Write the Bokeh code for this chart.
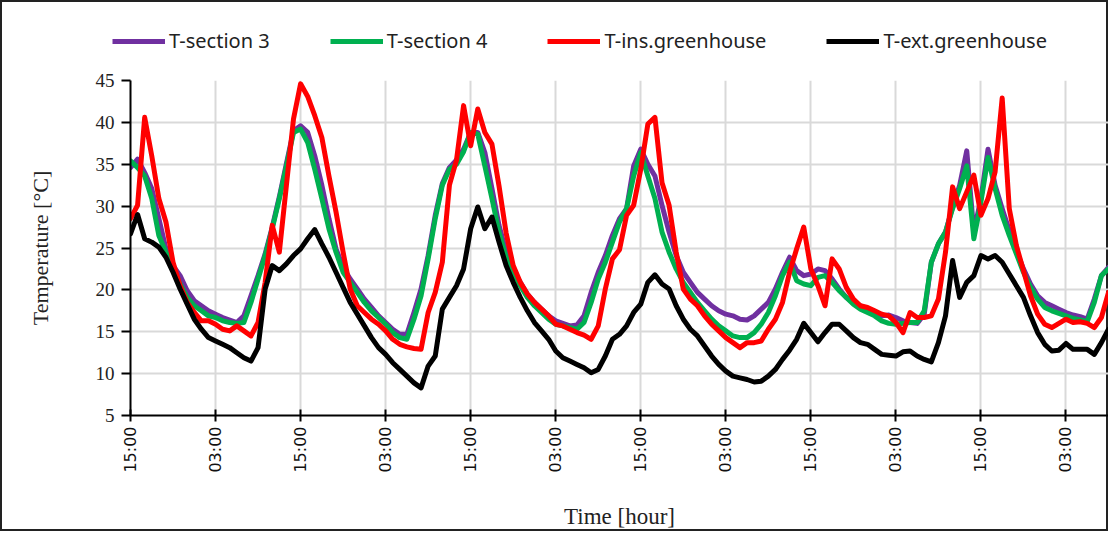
import numpy as np
from bokeh.plotting import figure
from bokeh.layouts import column
from bokeh.models import Legend, LegendItem, FixedTicker, Range1d
from bokeh.embed import file_html
from bokeh.resources import INLINE

# hourly samples, hour 0 = 15:00 of the first day
hours = list(range(139))

t_section3 = [
    34.6, 35.6, 34.0, 32.1, 28.5, 24.9, 22.9, 21.7, 19.9, 18.7, 18.1, 17.5, 17.1, 16.7, 16.4, 16.1,
    16.9, 19.3, 21.7, 24.3, 27.5, 31.1, 35.1, 39.0, 39.6, 38.8, 36.0, 32.5, 28.5, 24.9, 22.7, 21.3,
    20.1, 18.9, 17.9, 16.9, 16.1, 15.3, 14.7, 14.7, 17.3, 20.1, 24.1, 28.9, 32.7, 34.6, 35.5, 36.8,
    38.8, 38.8, 36.4, 32.1, 27.7, 24.5, 22.3, 20.9, 19.5, 18.5, 17.7, 16.9, 16.3, 16.0, 15.7, 15.8,
    16.9, 19.7, 22.1, 24.1, 26.5, 28.5, 29.7, 34.8, 36.8, 35.0, 33.6, 30.1, 26.9, 24.1, 22.1, 20.9,
    19.7, 18.9, 18.1, 17.5, 17.1, 16.9, 16.5, 16.4, 16.9, 17.7, 18.5, 20.1, 22.1, 23.9, 22.3, 21.7,
    21.9, 22.5, 22.3, 21.3, 20.1, 19.1, 18.5, 18.1, 17.7, 17.3, 16.9, 17.0, 16.7, 16.3, 16.1, 16.0,
    17.1, 23.3, 25.5, 26.9, 29.9, 32.5, 36.6, 26.9, 30.9, 36.8, 32.5, 29.7, 27.1, 24.7, 22.5, 20.7,
    19.3, 18.5, 18.1, 17.7, 17.3, 17.0, 16.8, 16.5, 18.9, 21.7, 22.7,
]

t_section4 = [
    35.4, 34.6, 33.6, 30.9, 26.5, 24.5, 22.5, 20.7, 19.1, 18.1, 17.5, 16.9, 16.7, 16.3, 16.1, 16.0,
    16.1, 18.5, 21.3, 24.1, 27.3, 30.9, 34.8, 38.8, 39.2, 37.6, 34.4, 30.9, 27.3, 24.5, 22.1, 20.9,
    19.7, 18.5, 17.5, 16.7, 15.9, 14.9, 14.3, 14.1, 16.5, 19.3, 23.7, 28.5, 32.5, 34.4, 35.0, 36.5,
    38.8, 38.6, 34.8, 30.9, 26.9, 23.9, 21.7, 20.5, 19.1, 18.1, 17.3, 16.5, 15.9, 15.7, 15.5, 15.3,
    16.1, 18.5, 21.3, 23.3, 25.7, 28.1, 29.7, 33.6, 36.4, 33.6, 30.9, 26.9, 24.5, 22.5, 20.9, 19.7,
    18.5, 17.5, 16.5, 15.7, 15.1, 14.5, 14.3, 14.3, 14.9, 15.9, 17.3, 19.3, 21.7, 23.3, 21.1, 20.7,
    20.5, 21.5, 21.7, 20.9, 19.9, 19.1, 18.3, 17.7, 17.3, 16.9, 16.3, 16.0, 15.9, 16.0, 16.1, 16.1,
    17.5, 23.3, 25.5, 26.9, 29.7, 32.1, 34.8, 26.1, 30.5, 35.8, 32.1, 28.9, 26.5, 24.3, 22.1, 20.3,
    18.9, 17.9, 17.5, 17.2, 16.9, 16.6, 16.4, 16.2, 18.5, 21.7, 22.5,
]

t_ins_greenhouse = [
    28.5, 30.1, 40.6, 36.0, 30.9, 28.1, 23.3, 20.5, 18.5, 17.3, 16.3, 16.3, 15.9, 15.3, 15.1, 15.7,
    15.1, 14.5, 16.1, 20.9, 27.7, 24.5, 32.5, 40.4, 44.6, 43.1, 40.8, 38.2, 33.6, 29.3, 24.5, 20.1,
    18.1, 17.3, 16.5, 15.9, 15.1, 14.1, 13.5, 13.2, 13.0, 12.9, 17.3, 19.7, 23.3, 32.5, 35.5, 42.0,
    37.2, 41.6, 38.8, 37.4, 32.4, 26.8, 22.9, 20.9, 19.5, 18.5, 17.7, 16.9, 15.9, 15.7, 15.3, 14.9,
    14.6, 14.1, 15.7, 20.1, 23.7, 24.8, 28.9, 30.1, 34.4, 39.8, 40.6, 32.8, 30.1, 24.5, 20.1, 18.9,
    18.1, 16.9, 15.9, 15.1, 14.3, 13.7, 13.1, 13.7, 13.7, 13.9, 15.3, 16.5, 18.5, 22.1, 24.9, 27.5,
    22.5, 20.5, 18.1, 23.7, 22.5, 20.3, 18.9, 18.1, 17.9, 17.5, 17.1, 16.9, 16.1, 14.9, 17.3, 16.7,
    16.7, 16.9, 18.9, 24.5, 32.3, 29.7, 31.7, 33.7, 28.9, 30.9, 34.1, 42.9, 29.7, 25.3, 22.3, 19.3,
    17.1, 15.9, 15.5, 16.0, 16.5, 16.1, 16.2, 16.0, 15.5, 16.7, 19.7,
]

t_ext_greenhouse = [
    26.7, 29.0, 26.1, 25.7, 25.1, 23.9, 22.1, 20.1, 18.3, 16.5, 15.3, 14.3, 13.9, 13.5, 13.1, 12.5,
    11.9, 11.5, 13.1, 20.1, 22.9, 22.3, 23.1, 24.1, 24.9, 26.1, 27.2, 25.5, 23.9, 22.1, 20.3, 18.5,
    17.1, 15.7, 14.3, 13.1, 12.3, 11.3, 10.5, 9.7, 8.9, 8.3, 10.9, 12.1, 17.7, 19.1, 20.5, 22.5,
    27.3, 29.9, 27.3, 28.7, 25.7, 22.9, 20.9, 19.1, 17.5, 16.1, 15.1, 14.1, 12.7, 11.9, 11.5, 11.1,
    10.7, 10.1, 10.5, 12.1, 14.1, 14.7, 15.7, 17.3, 18.3, 20.9, 21.8, 20.7, 20.1, 18.1, 16.5, 15.3,
    14.5, 13.3, 12.1, 11.1, 10.3, 9.7, 9.5, 9.3, 9.0, 9.1, 9.7, 10.5, 11.7, 12.8, 14.1, 16.0,
    14.9, 13.8, 14.9, 15.9, 15.9, 15.1, 14.3, 13.7, 13.5, 12.9, 12.3, 12.2, 12.1, 12.6, 12.7, 12.1,
    11.7, 11.4, 13.7, 16.9, 23.5, 19.1, 20.9, 21.7, 24.1, 23.7, 24.1, 23.3, 21.9, 20.5, 19.1, 16.9,
    14.9, 13.5, 12.7, 12.8, 13.6, 12.9, 12.9, 12.9, 12.3, 13.7, 15.3,
]

series_names = ["T-section 3", "T-section 4", "T-ins.greenhouse", "T-ext.greenhouse"]
series_colors = ["#7030A0", "#00B050", "#FF0000", "#000000"]
series_values = [t_section3, t_section4, t_ins_greenhouse, t_ext_greenhouse]

x_tick_positions = [0, 12, 24, 36, 48, 60, 72, 84, 96, 108, 120, 132]
x_tick_labels = ["15:00", "03:00", "15:00", "03:00", "15:00", "03:00",
                 "15:00", "03:00", "15:00", "03:00", "15:00", "03:00"]
y_ticks = [5, 10, 15, 20, 25, 30, 35, 40, 45]

LINE_W = 5
nan = float("nan")

# ---------- legend strip (top) ----------
leg = figure(frame_width=1108, frame_height=68, output_backend="svg", toolbar_location=None,
             x_range=Range1d(0, 1), y_range=Range1d(0, 1),
             x_axis_type=None, y_axis_type=None,
             min_border_left=0, min_border_right=0, min_border_top=0, min_border_bottom=0)
leg.outline_line_color = None
leg.background_fill_color = None
leg.border_fill_color = None
leg.grid.visible = False
# hidden stand-in renderers (no visible data) so the legend can show each series' swatch
leg_renderers = [leg.line(x=[nan, nan], y=[nan, nan], line_color=c, line_width=LINE_W)
                 for c in series_colors]
legend = Legend(
    items=[LegendItem(label=n, renderers=[r]) for n, r in zip(series_names, leg_renderers)],
    orientation="horizontal", location=(112, 14),
    glyph_width=53, glyph_height=22, label_standoff=4, spacing=60,
    padding=0, margin=0, border_line_color=None, background_fill_alpha=0,
    label_text_font="Noto Sans", label_text_font_size="20px", label_text_color="#222222",
)
leg.add_layout(legend)

# ---------- main chart ----------
p = figure(frame_width=978, frame_height=335, output_backend="svg", toolbar_location=None,
           x_range=Range1d(0, 138), y_range=Range1d(5, 45),
           min_border_left=130, min_border_right=0, min_border_top=12, min_border_bottom=114)
p.outline_line_color = None
p.background_fill_color = None
p.border_fill_color = None

for vals, col in zip(series_values, series_colors):
    p.line(hours, vals, line_color=col, line_width=LINE_W, line_join="round", line_cap="round")

p.xgrid.ticker = FixedTicker(ticks=x_tick_positions)
p.ygrid.ticker = FixedTicker(ticks=y_ticks)
for g in (p.xgrid[0], p.ygrid[0]):
    g.grid_line_color = "#d9d9d9"
    g.grid_line_width = 2

# x axis
xa = p.xaxis[0]
xa.ticker = FixedTicker(ticks=x_tick_positions)
xa.major_label_overrides = {k: v for k, v in zip(x_tick_positions, x_tick_labels)}
xa.major_label_orientation = np.pi / 2
xa.major_label_text_font = "DejaVu Sans"
xa.major_label_text_font_size = "16px"
xa.major_label_text_color = "#111111"
xa.major_label_standoff = 5
xa.axis_line_color = "black"
xa.axis_line_width = 2
xa.major_tick_line_color = "black"
xa.major_tick_line_width = 2
xa.major_tick_in = 6
xa.major_tick_out = 6
xa.minor_tick_line_color = None
xa.axis_label = "Time [hour]"
xa.axis_label_text_font = "Liberation Serif"
xa.axis_label_text_font_size = "23px"
xa.axis_label_text_font_style = "normal"
xa.axis_label_text_color = "#222222"
xa.axis_label_standoff = 28

# y axis
ya = p.yaxis[0]
ya.ticker = FixedTicker(ticks=y_ticks)
ya.major_label_text_font = "Liberation Serif"
ya.major_label_text_font_size = "19px"
ya.major_label_text_color = "#222222"
ya.major_label_standoff = 7
ya.axis_line_color = "black"
ya.axis_line_width = 2
ya.major_tick_line_color = "black"
ya.major_tick_line_width = 2
ya.major_tick_in = 0
ya.major_tick_out = 9
ya.minor_tick_line_color = None
ya.axis_label = "Temperature [°C]"
ya.axis_label_text_font = "Liberation Serif"
ya.axis_label_text_font_size = "22px"
ya.axis_label_text_font_style = "normal"
ya.axis_label_text_color = "#222222"
ya.axis_label_standoff = 40

layout = column(leg, p, spacing=0,
                styles={"outline": "2px solid #222222", "outline-offset": "-2px",
                        "background-color": "white"})

open("out.html", "w").write(file_html(layout, INLINE))
